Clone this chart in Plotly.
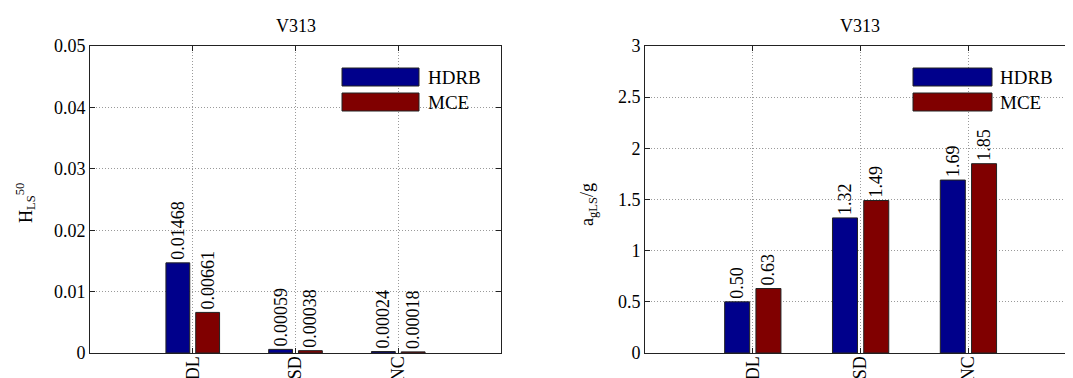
import plotly.graph_objects as go

categories = ["DL", "SD", "NC"]
series_names = ["HDRB", "MCE"]
h_hdrb = [0.01468, 0.00059, 0.00024]
h_mce = [0.00661, 0.00038, 0.00018]
a_hdrb = [0.50, 1.32, 1.69]
a_mce = [0.63, 1.49, 1.85]
left_yticks = [0, 0.01, 0.02, 0.03, 0.04, 0.05]
left_yticklabels = ["0", "0.01", "0.02", "0.03", "0.04", "0.05"]
right_yticks = [0, 0.5, 1, 1.5, 2, 2.5, 3]
right_yticklabels = ["0", "0.5", "1", "1.5", "2", "2.5", "3"]
title_text = "V313"

W, H = 1073, 378
OFF = 8  # page body margin
FONT = "Liberation Serif"
FS = 18
BLUE = "#00008B"
RED = "#800000"
colors = [BLUE, RED]

xpos = [1, 2, 3]

def px(x):
    return (x - OFF) / W

def py(y):
    return (H - (y - OFF)) / H

fig = go.Figure()

for i, vals in enumerate([h_hdrb, h_mce]):
    fig.add_trace(go.Bar(
        x=xpos, y=vals, name=series_names[i], marker_color=colors[i],
        marker_line=dict(color="#222", width=1),
        text=["{:.5f}".format(v) for v in vals], textposition="outside",
        textangle=-90, constraintext="none",
        textfont=dict(family=FONT, size=FS, color="black"),
        cliponaxis=False, xaxis="x", yaxis="y", showlegend=False))

for i, vals in enumerate([a_hdrb, a_mce]):
    fig.add_trace(go.Bar(
        x=xpos, y=vals, name=series_names[i], marker_color=colors[i],
        marker_line=dict(color="#222", width=1),
        text=["{:.2f}".format(v) for v in vals], textposition="outside",
        textangle=-90, constraintext="none",
        textfont=dict(family=FONT, size=FS, color="black"),
        cliponaxis=False, xaxis="x2", yaxis="y2", showlegend=False))

ydom = [py(353), py(46)]
axis_common = dict(showline=True, linecolor="#222", linewidth=1, mirror="ticks",
                   ticks="inside", ticklen=5, tickcolor="#222", automargin=False,
                   showgrid=True, gridcolor="#9a9a9a", griddash="1px,2px", gridwidth=1,
                   zeroline=False, tickfont=dict(family=FONT, size=FS, color="black"))

fig.update_layout(
    template="none",
    width=W, height=H, margin=dict(l=0, r=0, t=0, b=0, autoexpand=False),
    plot_bgcolor="white", paper_bgcolor="white",
    barmode="group", bargap=0.42, bargroupgap=0.2,
    font=dict(family=FONT, size=FS, color="black"),
    xaxis=dict(domain=[px(90), px(501)], range=[0, 4], tickvals=xpos,
               ticktext=categories, tickangle=-90, ticklabelstandoff=-5,
               anchor="y", **axis_common),
    yaxis=dict(domain=ydom, range=[0, 0.05], tickvals=left_yticks,
               ticktext=left_yticklabels, anchor="x", **axis_common),
    xaxis2=dict(domain=[px(645), 1], range=[0, 3.97 + OFF / 107.8], tickvals=xpos,
                ticktext=categories, tickangle=-90, ticklabelstandoff=-5,
                anchor="y2", **axis_common),
    yaxis2=dict(domain=ydom, range=[0, 3], tickvals=right_yticks,
                ticktext=right_yticklabels, anchor="x2", **axis_common),
)

# titles
for cx in (296, 860):
    fig.add_annotation(x=px(cx), y=py(26), xref="paper", yref="paper", text=title_text,
                       showarrow=False, xanchor="center", yanchor="middle",
                       font=dict(family=FONT, size=FS))
# y axis titles
fig.add_annotation(x=px(26), y=py(203), xref="paper", yref="paper",
                   text="H<sub>LS</sub><sup>50</sup>", textangle=-90,
                   xanchor="center", yanchor="middle",
                   showarrow=False, font=dict(family=FONT, size=FS))
fig.add_annotation(x=px(588), y=py(205), xref="paper", yref="paper",
                   text="a<sub>gLS</sub>/g", textangle=-90,
                   xanchor="center", yanchor="middle",
                   showarrow=False, font=dict(family=FONT, size=FS))

# legends (custom swatches)
for (sx0, sx1, tx) in [(342, 419, 426), (913, 992, 998)]:
    for i, (y0, y1) in enumerate([(68, 86), (93, 111)]):
        fig.add_shape(type="rect", xref="paper", yref="paper",
                      x0=px(sx0), x1=px(sx1), y0=py(y1), y1=py(y0),
                      fillcolor=colors[i], line=dict(color="#222", width=1))
        fig.add_annotation(x=px(tx), y=py((y0 + y1) / 2), xref="paper", yref="paper",
                           text=series_names[i], showarrow=False, xanchor="left",
                           yanchor="middle", font=dict(family=FONT, size=19))

fig.write_html("out.html")
